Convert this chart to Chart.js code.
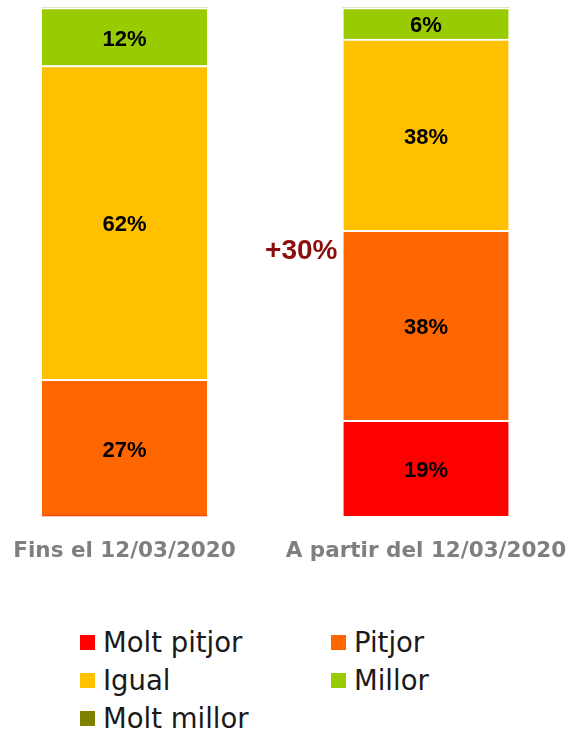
<!DOCTYPE html>
<html>
<head>
<meta charset="utf-8">
<script src="https://cdn.jsdelivr.net/npm/chart.js@4/dist/chart.umd.min.js"></script>
<style>
  body { margin: 0; background: #fff; width: 571px; height: 734px; overflow: hidden; }
  #grafic { display: block; }
  #llegenda {
    display: grid;
    grid-template-columns: 251px auto;
    padding-left: 80px;
    margin-top: 33px;
    font-family: "DejaVu Sans", sans-serif;
    font-size: 27.5px;
    color: #1a1a1a;
  }
  .item { display: flex; align-items: center; height: 38px; white-space: nowrap; }
  .quadre { width: 15px; height: 15px; margin-right: 8px; flex: none; }
</style>
</head>
<body>
<canvas id="grafic" width="571" height="590"></canvas>
<div id="llegenda"></div>
<script>
const periodes = ['Fins el 12/03/2020', 'A partir del 12/03/2020'];
const categories = ['Molt pitjor', 'Pitjor', 'Igual', 'Millor', 'Molt millor'];
const colors = ['#ff0000', '#ff6600', '#ffc000', '#99cc00', '#808000'];

// alçada de cada tram (% sobre el total), llegida del gràfic
const moltPitjor = [0, 18.8];
const pitjor = [26.9, 37.4];
const igual = [61.7, 37.6];
const millor = [11.4, 6.2];
const moltMillor = [0, 0];

// etiquetes tal com surten a les barres
const etiqMoltPitjor = ['', '19%'];
const etiqPitjor = ['27%', '38%'];
const etiqIgual = ['62%', '38%'];
const etiqMillor = ['12%', '6%'];
const etiqMoltMillor = ['', ''];

const anotacio = '+30%';

const valors = [moltPitjor, pitjor, igual, millor, moltMillor];
const etiquetes = [etiqMoltPitjor, etiqPitjor, etiqIgual, etiqMillor, etiqMoltMillor];

const pluginEtiquetes = {
    id: 'etiquetes',
    afterDatasetsDraw(chart) {
        const ctx = chart.ctx;
        ctx.save();
        ctx.fillStyle = '#000';
        ctx.font = 'bold 22px "Liberation Sans", Arial, sans-serif';
        ctx.textAlign = 'center';
        ctx.textBaseline = 'middle';
        chart.data.datasets.forEach((ds, i) => {
            chart.getDatasetMeta(i).data.forEach((el, j) => {
                const t = etiquetes[i][j];
                if (!t) return;
                ctx.fillText(t, el.x, (el.y + 2 + el.base) / 2 + 2);
            });
        });
        // +30% al costat de la segona barra
        const el = chart.getDatasetMeta(1).data[1];
        ctx.fillStyle = '#8c0c0c';
        ctx.font = 'bold 28px "Liberation Sans", Arial, sans-serif';
        ctx.textAlign = 'right';
        ctx.fillText(anotacio, el.x - el.width / 2 - 6, el.y + 21);
        ctx.restore();
    }
};

const grafic = new Chart(document.getElementById('grafic'), {
    type: 'bar',
    data: {
        labels: periodes,
        datasets: categories.map((c, i) => ({
            label: c,
            data: valors[i],
            backgroundColor: colors[i],
            borderColor: '#ffffff',
            borderWidth: { top: 2, right: 0, bottom: 0, left: 0 },
            borderSkipped: false,
            barThickness: 165,
            clip: false
        }))
    },
    options: {
        responsive: false,
        animation: false,
        layout: { padding: { left: 124.5, right: 145, top: 7.5, bottom: 4 } },
        plugins: { legend: { display: false }, tooltip: { enabled: false } },
        scales: {
            x: {
                stacked: true,
                offset: false,
                grid: { display: false, drawTicks: false },
                border: { display: false },
                ticks: {
                    padding: 0,
                    maxRotation: 0,
                    autoSkip: false,
                    color: '#7f7f7f',
                    font: { family: '"DejaVu Sans", sans-serif', size: 21.5, weight: 'bold', lineHeight: '70px' }
                }
            },
            y: { stacked: true, display: false, min: 0, max: 100 }
        }
    },
    plugins: [pluginEtiquetes]
});

// llegenda en dues columnes
const llegenda = document.getElementById('llegenda');
grafic.data.datasets.forEach(ds => {
    const d = document.createElement('div');
    d.className = 'item';
    d.innerHTML = `<span class="quadre" style="background:${ds.backgroundColor}"></span>${ds.label}`;
    llegenda.appendChild(d);
});
</script>
</body>
</html>
